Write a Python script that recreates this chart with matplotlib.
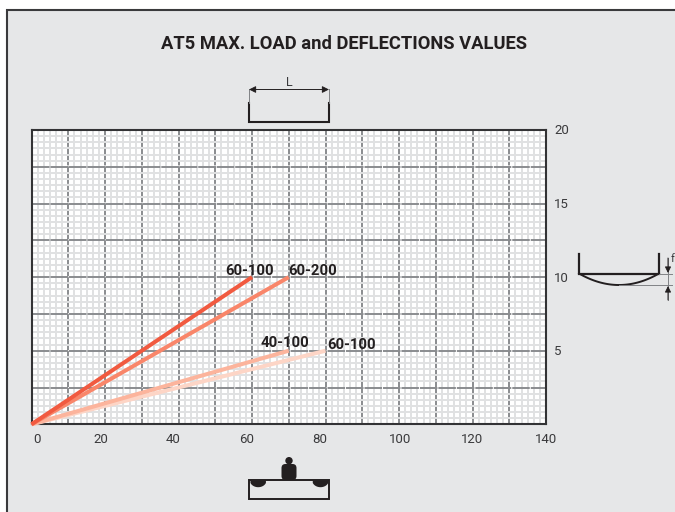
import matplotlib
matplotlib.use('Agg')
import matplotlib.pyplot as plt
from matplotlib.patches import Rectangle, Circle, FancyBboxPatch
from matplotlib.ticker import MultipleLocator
from matplotlib.transforms import ScaledTranslation
import numpy as np

plt.rcParams['font.family'] = ['Roboto', 'DejaVu Sans']

TITLE = 'AT5 MAX. LOAD and DEFLECTIONS VALUES'

# each series runs from the origin to its end point
series_names = ['60-100', '60-200', '40-100', '60-100']
end_load = [60, 70, 70, 80]
end_deflection = [10, 10, 5, 5]

x_ticks = [0, 20, 40, 60, 80, 100, 120, 140]
y_ticks = [5, 10, 15, 20]

colors = ['#f15a40', '#f9866a', '#fcb49c', '#fdd5c6']
label_pos = [(225, 271), (288, 271), (261, 343), (327, 345)]
x_label_shift = [6, -4, -5, -5, -6, 1, 0, 0]

W, H = 675, 512
DARK = '#231f20'
PANEL = '#e6e7e8'

fig = plt.figure(figsize=(W / 100, H / 100), dpi=100, facecolor='white')

# pixel-coordinate layer for the frame
bg = fig.add_axes([0, 0, 1, 1], zorder=0)
bg.set_xlim(0, W)
bg.set_ylim(H, 0)
bg.axis('off')
bg.add_patch(Rectangle((7, 9.5), 700, 520, fc=PANEL, ec='#3a3a3c', lw=1.5))

# chart
left, right, top, bottom = 31.5, 546, 130, 424.3
ax = fig.add_axes([left / W, 1 - bottom / H, (right - left) / W, (bottom - top) / H], zorder=2)
ax.set_facecolor('white')
ax.set_xlim(0, 140)
ax.set_ylim(0, 20)
ax.xaxis.set_major_locator(MultipleLocator(10))
ax.xaxis.set_minor_locator(MultipleLocator(10 / 6))
ax.yaxis.set_major_locator(MultipleLocator(2.5))
ax.yaxis.set_minor_locator(MultipleLocator(2.5 / 6))
ax.grid(which='minor', color='#e0e1e2', lw=1.4, zorder=1)
ax.grid(which='major', color='#8a8c8f', lw=1.4, ls=(0, (9, 0.5)), zorder=2)
ax.set_axisbelow(True)
ax.tick_params(which='both', length=0)
ax.set_xticklabels([])
ax.set_yticklabels([])
for s in ax.spines.values():
    s.set_color('#333335')
    s.set_linewidth(1.5)

for i in range(4):
    # paler series sit underneath the stronger ones
    ax.plot([0, end_load[i]], [0, end_deflection[i]], color=colors[i], lw=2.9,
            solid_capstyle='butt', zorder=6 - i, clip_on=False)

# tick labels, nudged off the grid positions as in the source drawing
for v, shift in zip(x_ticks, x_label_shift):
    tr = ax.get_xaxis_transform() + ScaledTranslation(shift / 100, -15 / 100, fig.dpi_scale_trans)
    ax.text(v, 0, str(v), transform=tr, ha='center', va='center', fontsize=9.5,
            color='#3a3a3c', clip_on=False)
for v in y_ticks:
    tr = ax.get_yaxis_transform() + ScaledTranslation(8 / 100, -1 / 100, fig.dpi_scale_trans)
    ax.text(1, v, str(v), transform=tr, ha='left', va='center', fontsize=9.5,
            color='#3a3a3c', clip_on=False)

# labels on top of everything
top_ax = fig.add_axes([0, 0, 1, 1], zorder=3)
top_ax.set_xlim(0, W)
top_ax.set_ylim(H, 0)
top_ax.axis('off')
top_ax.text(344, 44, TITLE, ha='center', va='center', fontsize=13.2, fontweight='bold', color=DARK)
for name, (px, py) in zip(series_names, label_pos):
    top_ax.text(px, py, name, ha='left', va='center', fontsize=10.7, fontweight='bold', color=DARK)

# span schematic above the chart
top_ax.plot([249, 249, 329, 329], [103, 122, 122, 103], color=DARK, lw=1.5, solid_joinstyle='miter')
top_ax.plot([249, 249], [89, 103], color='#808285', lw=0.7)
top_ax.plot([329, 329], [89, 103], color='#808285', lw=0.7)
top_ax.annotate('', xy=(249, 89.5), xytext=(329, 89.5),
                arrowprops=dict(arrowstyle='<|-|>', color=DARK, lw=0.7, shrinkA=0, shrinkB=0, mutation_scale=10))
top_ax.text(289.5, 83, 'L', ha='center', va='center', fontsize=9, color='#3a3a3c')

# deflection schematic on the right
top_ax.plot([579, 579, 659, 659], [254, 273.5, 273.5, 254], color=DARK, lw=1.6, solid_joinstyle='miter')
xs = np.linspace(579, 659, 60)
top_ax.plot(xs, 273.5 + 11.5 * (1 - ((xs - 619) / 40) ** 2), color=DARK, lw=1.4)
top_ax.plot([619, 672], [285, 285], color='#808285', lw=0.7)
top_ax.plot([659, 672], [273.5, 273.5], color='#808285', lw=0.7)
top_ax.plot([668, 668], [258, 300], color='#808285', lw=0.7)
top_ax.annotate('', xy=(668, 273), xytext=(668, 258),
                arrowprops=dict(arrowstyle='-|>', color=DARK, lw=0.7, shrinkA=0, shrinkB=0, mutation_scale=9))
top_ax.annotate('', xy=(668, 286), xytext=(668, 300),
                arrowprops=dict(arrowstyle='-|>', color=DARK, lw=0.7, shrinkA=0, shrinkB=0, mutation_scale=9))
top_ax.text(670.5, 259, 'f', ha='left', va='center', fontsize=8, color='#3a3a3c')

# load schematic under the chart
top_ax.add_patch(Rectangle((248.5, 480), 80.5, 19, fc='none', ec=DARK, lw=1.4))
for cx in (257.7, 320):
    bx = np.linspace(cx - 8.3, cx + 8.3, 30)
    top_ax.fill_between(bx, 480, 480 + 6.7 * np.sqrt(1 - ((bx - cx) / 8.3) ** 2), color=DARK, lw=0)
top_ax.add_patch(Circle((289, 460.7), 3.7, fc=DARK, ec='none'))
top_ax.add_patch(FancyBboxPatch((281.5, 464), 15, 16, boxstyle='round,pad=0,rounding_size=4', fc=DARK, ec='none'))

fig.savefig('out.png', dpi=100, facecolor='white')
